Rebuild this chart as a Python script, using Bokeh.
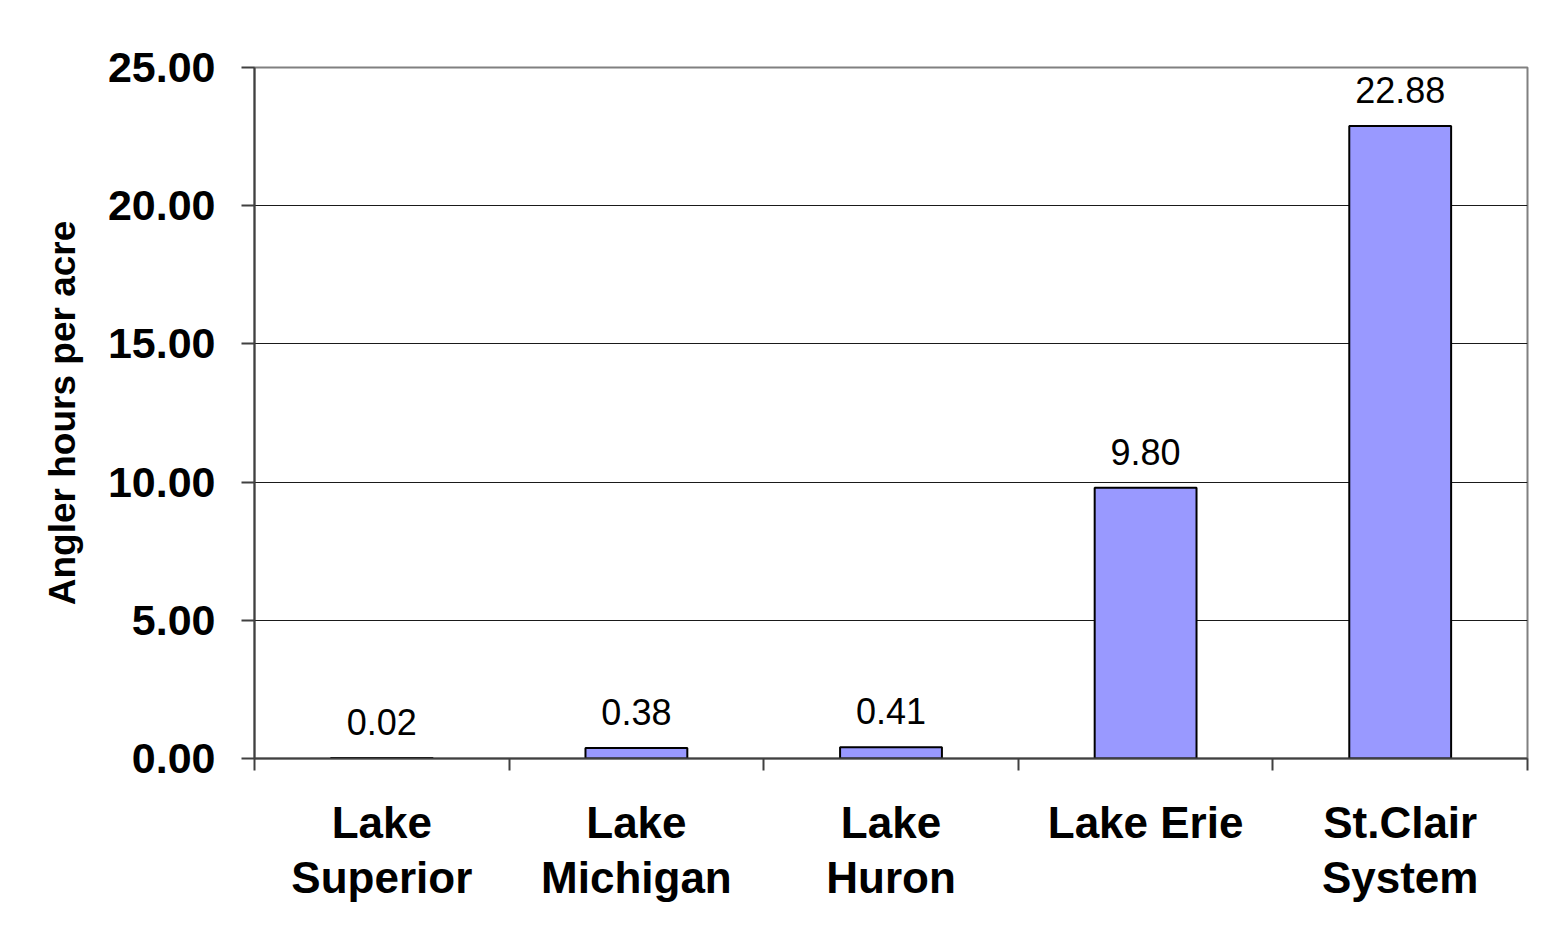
import numpy as np
from bokeh.plotting import figure
from bokeh.models import (Range1d, FixedTicker, PrintfTickFormatter,
                          ColumnDataSource)
from bokeh.core.properties import value
from bokeh.embed import file_html
from bokeh.resources import INLINE

# ---- data ----
categories = ["Lake\nSuperior", "Lake\nMichigan", "Lake\nHuron", "Lake Erie", "St.Clair\nSystem"]
hours_per_acre = [0.02, 0.38, 0.41, 9.80, 22.88]
y_ticks = [0, 5, 10, 15, 20, 25]
y_label = "Angler hours per acre"

FONT = "Liberation Sans"
W, H = 1536, 920

x_centers = np.arange(len(categories)) + 0.5
x_bounds = list(np.arange(len(categories) + 1).astype(float))

src = ColumnDataSource(dict(
    x=x_centers,
    top=hours_per_acre,
    label=[f"{v:.2f}" for v in hours_per_acre],
))

p = figure(width=W, height=H, output_backend="svg", toolbar_location=None,
           x_range=Range1d(0, len(categories)), y_range=Range1d(y_ticks[0], y_ticks[-1]),
           min_border_left=254, min_border_right=9, min_border_top=67,
           min_border_bottom=162)

p.background_fill_color = "white"
p.border_fill_color = "white"
p.outline_line_color = "#808080"
p.outline_line_width = 2

# bars
p.vbar(x="x", top="top", bottom=0, width=0.4, source=src,
       fill_color="#9999FF", line_color="black", line_width=2)

# value labels
p.text(x="x", y="top", text="label", source=src,
       text_font=value(FONT), text_font_size=value("36px"),
       text_align="center", text_baseline="alphabetic", y_offset=-36,
       text_color="black")

# grid
p.xgrid.visible = False
p.ygrid.ticker = FixedTicker(ticks=y_ticks)
p.ygrid.grid_line_color = "#1a1a1a"
p.ygrid.grid_line_width = 1

# y axis
ya = p.yaxis[0]
ya.ticker = FixedTicker(ticks=y_ticks, minor_ticks=[])
ya.formatter = PrintfTickFormatter(format="%.2f")
ya.axis_line_color = "#404040"
ya.axis_line_width = 2
ya.major_tick_line_color = "#404040"
ya.major_tick_line_width = 2
ya.major_tick_out = 13
ya.major_tick_in = 0
ya.minor_tick_line_color = None
ya.major_label_text_font = FONT
ya.major_label_text_font_size = "43px"
ya.major_label_text_font_style = "bold"
ya.major_label_text_color = "black"
ya.major_label_standoff = 26
ya.axis_label = y_label
ya.axis_label_text_font = FONT
ya.axis_label_text_font_size = "37px"
ya.axis_label_text_font_style = "bold"
ya.axis_label_text_color = "black"
ya.axis_label_standoff = 22

# x axis
xa = p.xaxis[0]
xa.ticker = FixedTicker(ticks=list(x_centers), minor_ticks=x_bounds)
xa.major_label_overrides = {float(c): lab for c, lab in zip(x_centers, categories)}
xa.axis_line_color = "#404040"
xa.axis_line_width = 2
xa.major_tick_line_color = None
xa.major_tick_out = 12
xa.major_tick_in = 0
xa.minor_tick_line_color = "#404040"
xa.minor_tick_line_width = 2
xa.minor_tick_out = 12
xa.minor_tick_in = 0
xa.major_label_text_font = FONT
xa.major_label_text_font_size = "44px"
xa.major_label_text_font_style = "bold"
xa.major_label_text_color = "black"
xa.major_label_text_line_height = 1.14
xa.major_label_standoff = 27

open("out.html", "w").write(file_html(p, INLINE))
